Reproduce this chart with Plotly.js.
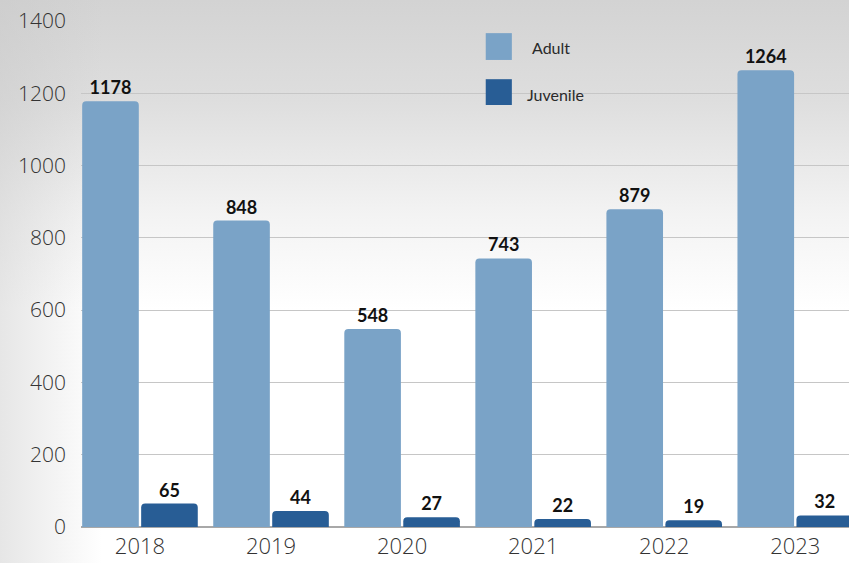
<!DOCTYPE html>
<html><head><meta charset="utf-8">
<script src="https://cdn.plot.ly/plotly-3.0.1.min.js"></script>
<style>
html,body{margin:0;padding:0;width:849px;height:563px;overflow:hidden;
background:
  linear-gradient(to right, rgba(200,200,200,0.45) 0%, rgba(200,200,200,0) 12%),
  linear-gradient(to bottom, #d3d3d3 0%, #dedede 18%, #f3f3f3 38%, #ffffff 55%, #ffffff 100%);}
#chart{width:849px;height:563px;}
</style></head>
<body><div id="chart"></div>
<script>
const years = ['2018','2019','2020','2021','2022','2023'];
const adult = [1178, 848, 548, 743, 879, 1264];
const juvenile = [65, 44, 27, 22, 19, 32];
const yTicks = [0, 200, 400, 600, 800, 1000, 1200, 1400];
const seriesNames = ['Adult', 'Juvenile'];
const seriesColors = ['#7aa3c7', '#285d95'];

const labelFont = {family: 'Lato, sans-serif', size: 18, color: '#111', weight: 700};

const traces = [
  {type: 'bar', name: seriesNames[0], x: years, y: adult, text: adult.map(String),
   textposition: 'outside', textfont: labelFont, cliponaxis: false,
   marker: {color: seriesColors[0], cornerradius: 4}},
  {type: 'bar', name: seriesNames[1], x: years, y: juvenile, text: juvenile.map(String),
   textposition: 'outside', textfont: labelFont, cliponaxis: false,
   marker: {color: seriesColors[1], cornerradius: 4}}
];

// custom legend (large squares)
const legendShapes = [
  {type: 'rect', xref: 'paper', yref: 'paper', x0: 0.527, x1: 0.561, y0: 0.923, y1: 0.976,
   fillcolor: seriesColors[0], line: {width: 0}},
  {type: 'rect', xref: 'paper', yref: 'paper', x0: 0.527, x1: 0.561, y0: 0.834, y1: 0.885,
   fillcolor: seriesColors[1], line: {width: 0}}
];
const legendText = [
  {xref: 'paper', yref: 'paper', x: 0.585, y: 0.948, xanchor: 'left', yanchor: 'middle',
   text: seriesNames[0], showarrow: false, font: {family: 'Lato, sans-serif', size: 16, color: '#2a2a2a'}},
  {xref: 'paper', yref: 'paper', x: 0.578, y: 0.855, xanchor: 'left', yanchor: 'middle',
   text: seriesNames[1], showarrow: false, font: {family: 'Lato, sans-serif', size: 16, color: '#2a2a2a'}}
];

const layout = {
  width: 849, height: 563,
  margin: {l: 81, r: 0, t: 21, b: 36},
  paper_bgcolor: 'rgba(0,0,0,0)', plot_bgcolor: 'rgba(0,0,0,0)',
  barmode: 'group', bargap: 0.1, bargroupgap: 0.04,
  xaxis: {type: 'category', range: [-0.45, 5.41], showgrid: false, ticks: '',
    ticklabelstandoff: 4,
    tickfont: {family: 'Open Sans, sans-serif', size: 22, color: '#333', weight: 300},
    showline: false, zeroline: false},
  yaxis: {range: [0, 1400], tickvals: yTicks, ticktext: yTicks.map(String),
    showgrid: true, gridcolor: '#c6c6c6', gridwidth: 1, zeroline: true,
    zerolinecolor: '#a8a8a8', zerolinewidth: 1.5, ticks: '', ticklabelstandoff: 14,
    tickfont: {family: 'Open Sans, sans-serif', size: 21, color: '#333', weight: 300}},
  showlegend: false,
  shapes: legendShapes,
  annotations: legendText,
  font: {family: 'Open Sans, sans-serif'}
};

Plotly.newPlot('chart', traces, layout, {displayModeBar: false, staticPlot: true});
</script></body></html>
